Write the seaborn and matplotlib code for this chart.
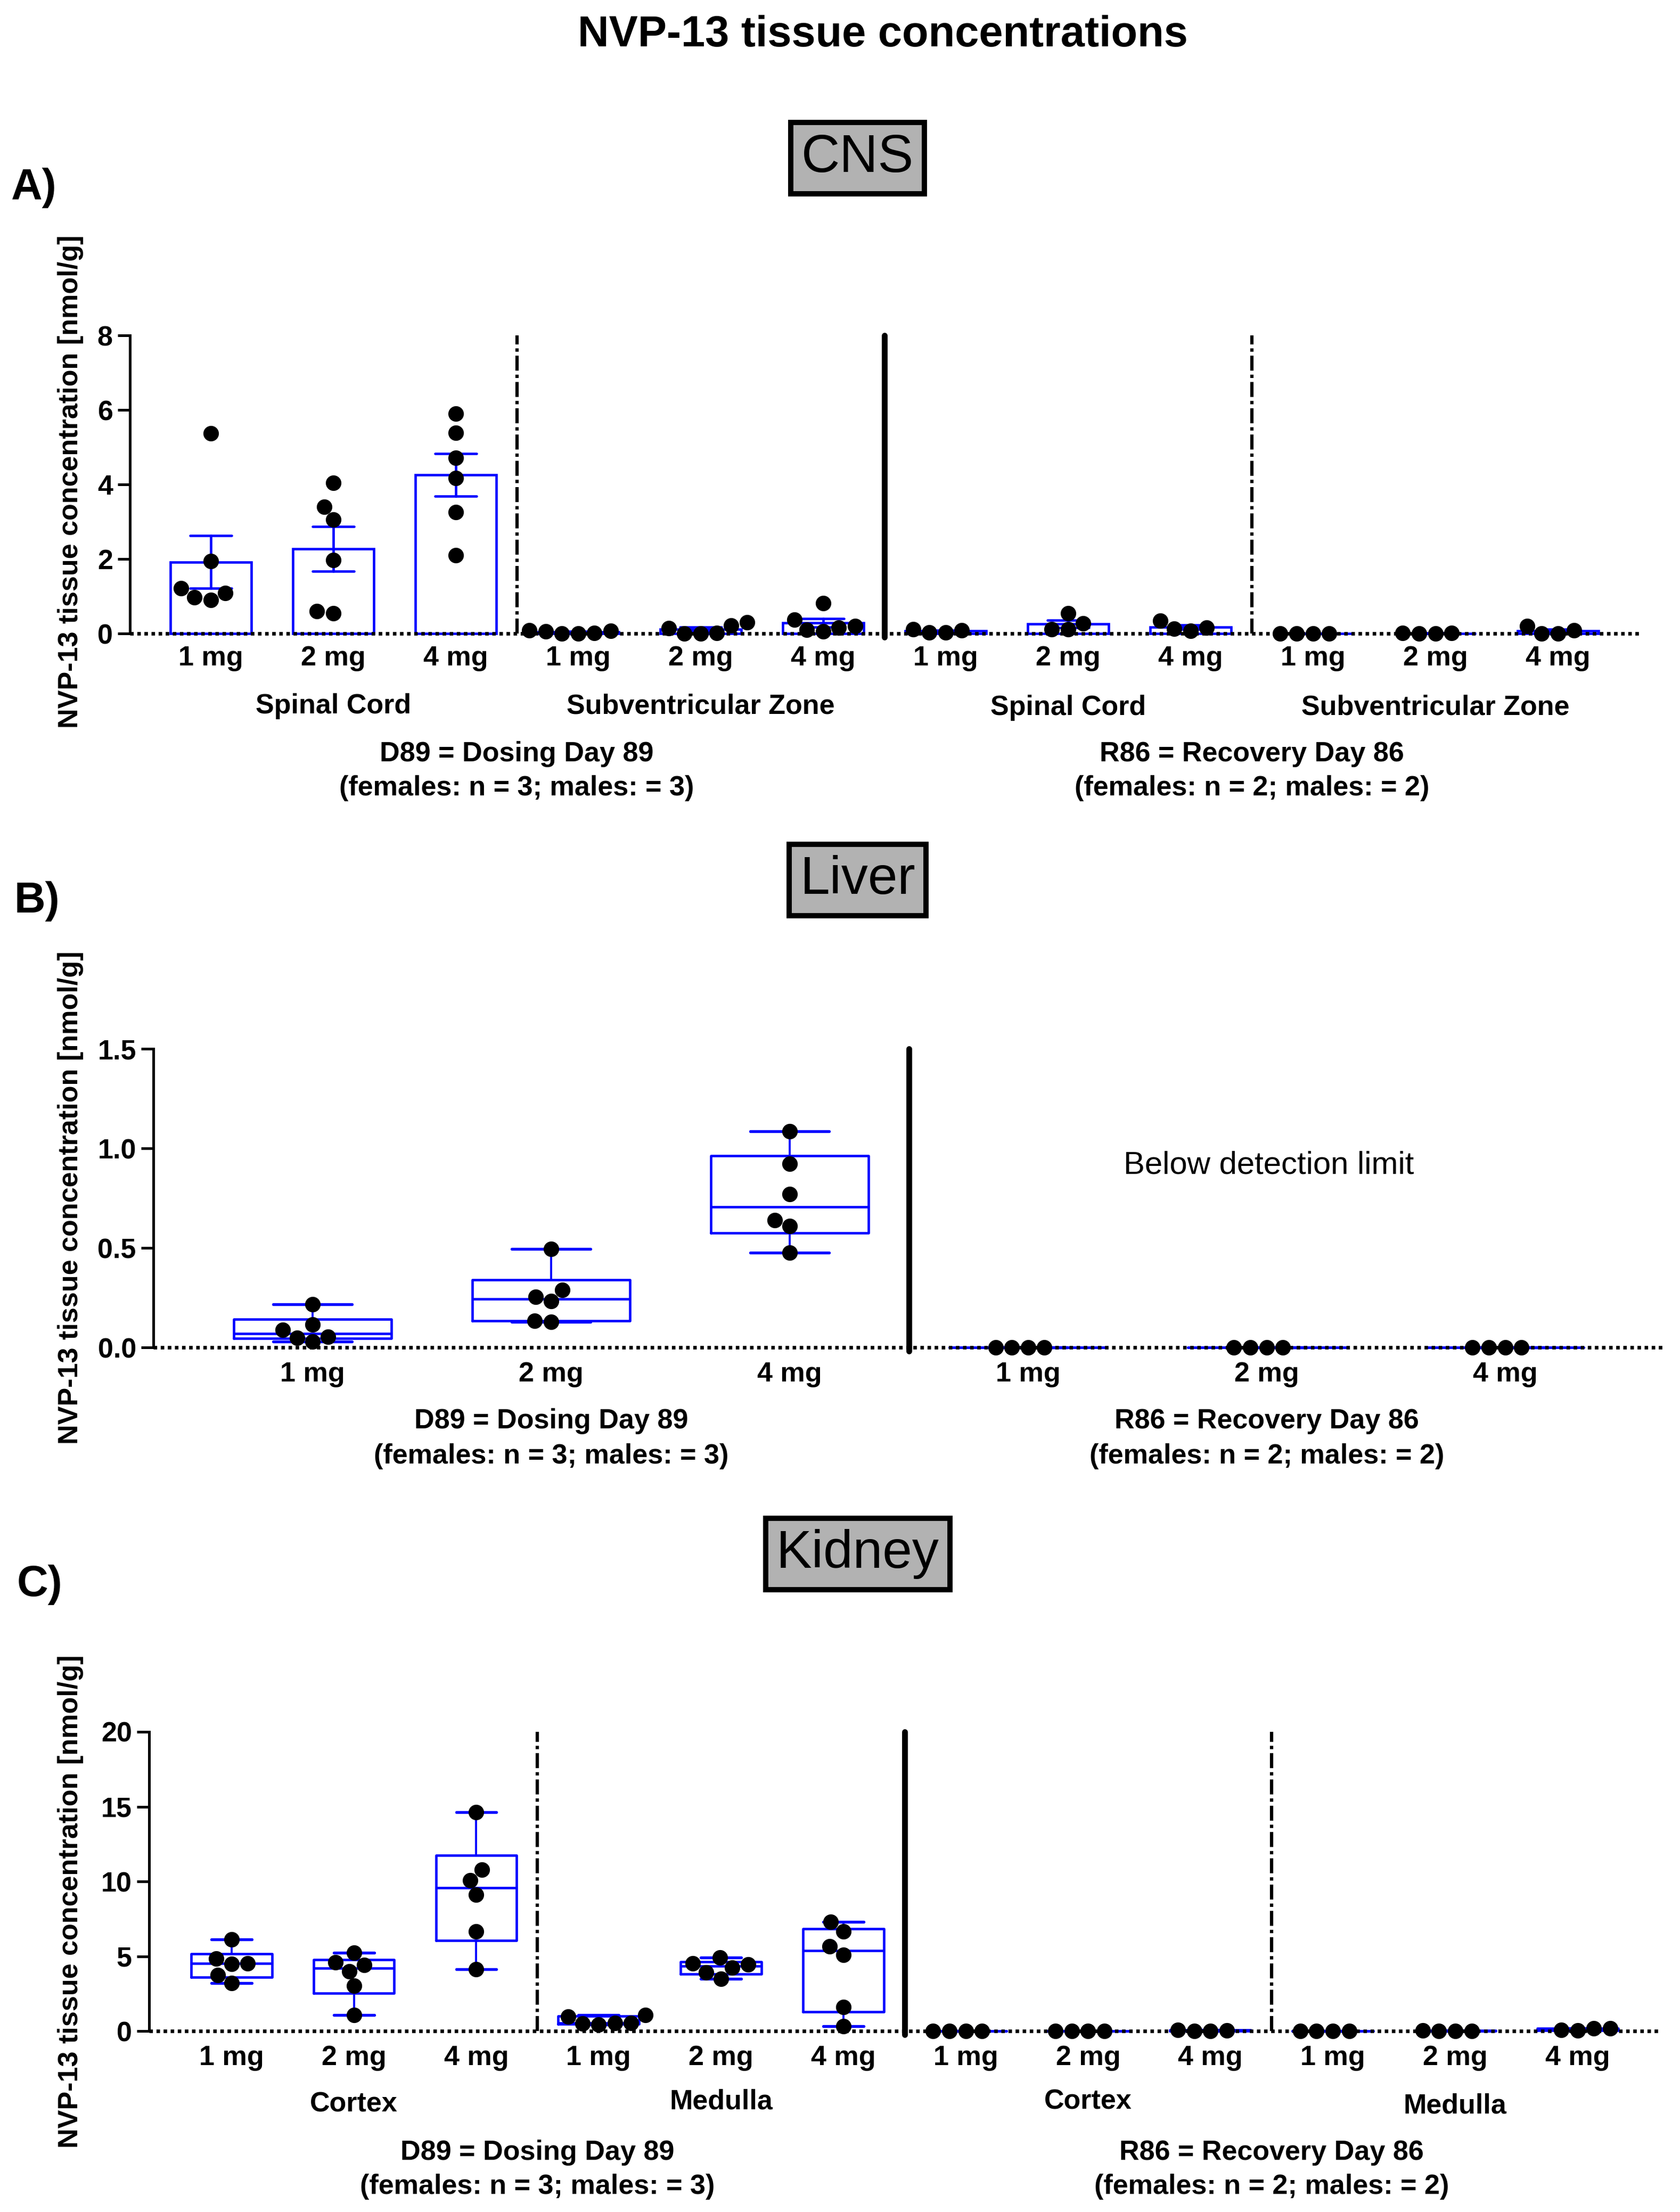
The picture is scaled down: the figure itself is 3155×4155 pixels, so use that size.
import numpy as np
import pandas as pd
import matplotlib
matplotlib.use("Agg")
import matplotlib.pyplot as plt
import matplotlib.transforms as mtransforms
import seaborn as sns

# ── Data (nmol/g) ──────────────────────────────
DOSES = ["1 mg", "2 mg", "4 mg"]

# A) CNS  -- D89: n = 6, R86: n = 4
cns_d89_spinal = [
    [0.91, 1.22, 5.38, 1.95, 0.98, 1.09],
    [0.55, 4.04, 3.41, 3.06, 1.97, 0.60],
    [2.10, 3.26, 4.72, 5.90, 5.39, 4.17],
]
cns_d89_svz = [
    [0.01, 0.09, 0.02, 0.07, 0.00, 0.06],
    [0.015, 0.31, 0.00, 0.22, 0.00, 0.146],
    [0.11, 0.38, 0.82, 0.16, 0.20, 0.06],
]
cns_r86_spinal = [
    [0.036, 0.124, 0.036, 0.087],
    [0.124, 0.27, 0.546, 0.124],
    [0.073, 0.35, 0.131, 0.16],
]
cns_r86_svz = [
    [0.0, 0.0, 0.0, 0.0],
    [0.0, 0.015, 0.015, 0.0],
    [0.0, 0.197, 0.0, 0.087],
]

# B) Liver
liver_d89 = [
    [0.116, 0.03, 0.089, 0.218, 0.05, 0.053],
    [0.289, 0.13, 0.232, 0.496, 0.135, 0.255],
    [1.087, 0.923, 0.77, 0.641, 0.61, 0.476],
]
liver_r86 = [
    [0.0, 0.0, 0.0, 0.0],
    [0.0, 0.0, 0.0, 0.0],
    [0.0, 0.0, 0.0, 0.0],
]

# C) Kidney
kidney_d89_cortex = [
    [4.53, 6.14, 4.85, 4.50, 3.74, 3.20],
    [5.25, 4.60, 4.41, 4.01, 3.02, 1.07],
    [14.62, 10.77, 10.06, 9.10, 6.68, 4.14],
]
kidney_d89_medulla = [
    [0.51, 0.99, 0.54, 0.54, 1.07, 0.43],
    [4.25, 4.52, 4.93, 3.93, 4.46, 3.50],
    [7.32, 6.68, 5.65, 5.09, 1.62, 0.32],
]
kidney_r86_cortex = [
    [0.0, 0.0, 0.0, 0.0],
    [0.0, 0.0, 0.0, 0.0],
    [0.03, 0.08, 0.03, 0.06],
]
kidney_r86_medulla = [
    [0.0, 0.0, 0.0, 0.0],
    [0.02, 0.05, 0.03, 0.02],
    [0.05, 0.20, 0.10, 0.18],
]

D89_TEXT = ["D89 = Dosing Day 89", "(females: n = 3; males: = 3)"]
R86_TEXT = ["R86 = Recovery Day 86", "(females: n = 2; males: = 2)"]
YLABEL = "NVP-13 tissue concentration [nmol/g]"

BLUE = "#0000ff"
GREY = "#b2b2b2"

# ── Layout: reference measured on a 1189 x 1566 grid ──
W, H = 1189.0, 1566.0


def rect(x_axis, x_right, y_zero, y_top):
    return [x_axis / W, 1 - y_zero / H, (x_right - x_axis) / W, (y_zero - y_top) / H]


def fy(y):
    return 1 - y / H


# ── Helpers ────────────────────────────────────
def long_frame(groups):
    rows = []
    for prefix, series in groups:
        for dose, vals in zip(DOSES, series):
            for v in vals:
                rows.append({"slot": f"{prefix} {dose}", "value": v})
    df = pd.DataFrame(rows)
    return df, list(dict.fromkeys(df["slot"]))


def prism_stats(vals):
    # Prism-style quartiles (n + 1 basis)
    v = np.asarray(vals, dtype=float)
    q1, med, q3 = np.percentile(v, [25, 50, 75], method="weibull")
    return dict(med=med, q1=q1, q3=q3, whislo=v.min(), whishi=v.max(), fliers=[])


def draw_boxes(ax, df, order):
    stats = [prism_stats(df.loc[df["slot"] == s, "value"]) for s in order]
    ax.bxp(stats, positions=range(len(order)), widths=0.66, capwidths=0.33,
           showfliers=False, manage_ticks=False,
           boxprops=dict(color=BLUE, linewidth=1.1),
           whiskerprops=dict(color=BLUE, linewidth=0.9),
           capprops=dict(color=BLUE, linewidth=1.3),
           medianprops=dict(color=BLUE, linewidth=1.1))


def swarm(ax, df, order):
    sns.swarmplot(data=df, x="slot", y="value", order=order, color="black",
                  size=7, zorder=3, ax=ax)


def style_axes(ax, top, yticks, yticklabels, xlim, xpad, dashdot, solid):
    n = int(round(xlim[1] + 0.33))
    ax.set_ylim(0, top)
    ax.set_xlim(*xlim)
    for side in ("top", "right", "bottom"):
        ax.spines[side].set_visible(False)
    ax.spines["left"].set_bounds(0, top)
    ax.spines["left"].set_linewidth(1.2)
    ax.spines["left"].set_color("black")
    ax.set_yticks(yticks)
    ax.set_yticklabels(yticklabels)
    ax.set_xticks(range(n))
    ax.set_xticklabels(DOSES * (n // 3))
    ax.tick_params(axis="y", length=5.5, width=1.2, pad=2.2, labelsize=12.5,
                   color="black", labelcolor="black")
    ax.tick_params(axis="x", length=0, pad=xpad, labelsize=12.5,
                   labelcolor="black")
    ax.set_xlabel("")
    ax.set_ylabel("")
    ax.axhline(0, color="black", lw=1.6, ls=(0, (1, 1)), zorder=2.5)
    for x in dashdot:
        ax.plot([x, x], [0, top], color="black", lw=1.5,
                ls=(0, (4.5, 1.2, 1, 1.2)))
    for x in solid:
        ax.plot([x, x], [-0.012 * top, top], color="black", lw=2.6,
                solid_capstyle="round")
    for art in ax.collections + ax.lines + ax.patches:
        art.set_clip_on(False)


def put_text(fig, ax, items):
    trans = mtransforms.blended_transform_factory(ax.transData, fig.transFigure)
    for s, x, y in items:
        ax.text(x, fy(y), s, transform=trans, ha="center", va="center",
                fontsize=12.5, fontweight="bold", color="black")


def header(fig, letter, letter_x, y_letter, name, y_name):
    fig.text(letter_x / W, fy(y_letter), letter, fontsize=19.5,
             fontweight="bold", ha="left", va="center", color="black")
    fig.text(607 / W, fy(y_name), name, fontsize=24, fontweight="normal",
             ha="center", va="center", color="black",
             bbox=dict(boxstyle="square,pad=0.2", fc=GREY, ec="black", lw=2.4))


# ── Figure ─────────────────────────────────────
sns.set_theme(style="ticks")
plt.rcParams["font.family"] = ["Liberation Sans", "DejaVu Sans"]
plt.rcParams["font.weight"] = "bold"
plt.rcParams["axes.labelweight"] = "bold"
plt.rcParams["text.color"] = "black"
plt.rcParams["axes.edgecolor"] = "black"
plt.rcParams["xtick.color"] = "black"
plt.rcParams["ytick.color"] = "black"

fig = plt.figure(figsize=(3155 / 300, 4155 / 300), dpi=300)
fig.patch.set_facecolor("white")

fig.text(625 / W, fy(25), "NVP-13 tissue concentrations", fontsize=19.5,
         fontweight="bold", ha="center", va="center")

# A) CNS
dfA, orderA = long_frame([("D89 SC", cns_d89_spinal), ("D89 SVZ", cns_d89_svz),
                          ("R86 SC", cns_r86_spinal), ("R86 SVZ", cns_r86_svz)])
axA = fig.add_axes(rect(91.9, 1162.4, 448.6, 237.5))
sns.barplot(data=dfA, x="slot", y="value", order=orderA, errorbar="se",
            capsize=0.34, width=0.66, color="white", saturation=1,
            edgecolor=BLUE, linewidth=1.1,
            err_kws={"color": BLUE, "linewidth": 1.1}, ax=axA)
swarm(axA, dfA, orderA)
style_axes(axA, 8, [0, 2, 4, 6, 8], ["0", "2", "4", "6", "8"],
           (-0.66, 11.69), 5.2, dashdot=[2.5, 8.5], solid=[5.5])
put_text(fig, axA, [("Spinal Cord", 1, 500), ("Subventricular Zone", 4, 500),
                    ("Spinal Cord", 7, 501), ("Subventricular Zone", 10, 501),
                    (D89_TEXT[0], 2.5, 534), (D89_TEXT[1], 2.5, 558),
                    (R86_TEXT[0], 8.5, 534), (R86_TEXT[1], 8.5, 558)])
fig.text(50 / W, fy(341), YLABEL, rotation=90, fontsize=12.5,
         fontweight="bold", ha="center", va="center")
header(fig, "A)", 8, 133, "CNS", 112)

# B) Liver
dfB, orderB = long_frame([("D89", liver_d89), ("R86", liver_r86)])
axB = fig.add_axes(rect(108.5, 1178, 954, 742.6))
swarm(axB, dfB, orderB)
draw_boxes(axB, dfB, orderB)
style_axes(axB, 1.5, [0, 0.5, 1.0, 1.5], ["0.0", "0.5", "1.0", "1.5"],
           (-0.668, 5.668), 6.2, dashdot=[], solid=[2.5])
put_text(fig, axB, [(D89_TEXT[0], 1, 1006), (D89_TEXT[1], 1, 1031),
                    (R86_TEXT[0], 4, 1006), (R86_TEXT[1], 4, 1031)])
fig.text(898 / W, fy(825), "Below detection limit", fontsize=14.4,
         fontweight="normal", ha="center", va="center")
fig.text(50 / W, fy(848), YLABEL, rotation=90, fontsize=12.5,
         fontweight="bold", ha="center", va="center")
header(fig, "B)", 10, 638, "Liver", 623)

# C) Kidney
dfC, orderC = long_frame([("D89 Cx", kidney_d89_cortex), ("D89 Me", kidney_d89_medulla),
                          ("R86 Cx", kidney_r86_cortex), ("R86 Me", kidney_r86_medulla)])
axC = fig.add_axes(rect(105.5, 1175, 1438, 1226))
swarm(axC, dfC, orderC)
draw_boxes(axC, dfC, orderC)
style_axes(axC, 20, [0, 5, 10, 15, 20], ["0", "5", "10", "15", "20"],
           (-0.674, 11.675), 6.2, dashdot=[2.5, 8.5], solid=[5.5])
put_text(fig, axC, [("Cortex", 1, 1490), ("Medulla", 4, 1488),
                    ("Cortex", 7, 1488), ("Medulla", 10, 1491),
                    (D89_TEXT[0], 2.5, 1524), (D89_TEXT[1], 2.5, 1548),
                    (R86_TEXT[0], 8.5, 1524), (R86_TEXT[1], 8.5, 1548)])
fig.text(50 / W, fy(1346), YLABEL, rotation=90, fontsize=12.5,
         fontweight="bold", ha="center", va="center")
header(fig, "C)", 12, 1122, "Kidney", 1100)

fig.savefig("out.png", dpi=300, facecolor="white")
plt.close(fig)
